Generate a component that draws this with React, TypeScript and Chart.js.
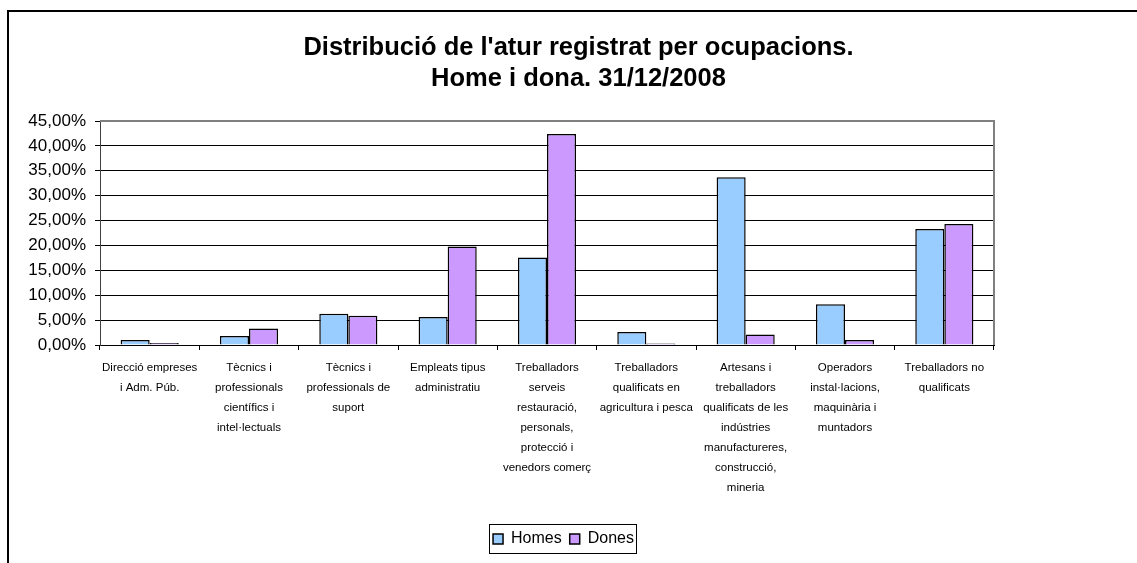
import React, { useEffect, useRef } from "react";
import { Chart, registerables } from "chart.js";

Chart.register(...registerables);

const titleLines = ["Distribució de l'atur registrat per ocupacions.", "Home i dona. 31/12/2008"];

const categories: string[][] = [
  ["Direcció empreses", "i Adm. Púb."],
  ["Tècnics i", "professionals", "científics i", "intel·lectuals"],
  ["Tècnics i", "professionals de", "suport"],
  ["Empleats tipus", "administratiu"],
  ["Treballadors", "serveis", "restauració,", "personals,", "protecció i", "venedors comerç"],
  ["Treballadors", "qualificats en", "agricultura i pesca"],
  ["Artesans i", "treballadors", "qualificats de les", "indústries", "manufactureres,", "construcció,", "mineria"],
  ["Operadors", "instal·lacions,", "maquinària i", "muntadors"],
  ["Treballadors no", "qualificats"],
];

const homes = [1.0, 1.8, 6.3, 5.6, 17.6, 2.6, 33.7, 8.2, 23.3];
const dones = [0.4, 3.3, 5.9, 19.8, 42.4, 0.3, 2.1, 1.0, 24.3];

const seriesNames = ["Homes", "Dones"];
const yMax = 45;
const yStep = 5;

const FONT = "Arial, 'Liberation Sans', sans-serif";

const framePlugin = {
  id: "frameAndBorders",
  afterLayout(chart: any) {
    const legend = chart.legend;
    if (!legend) return;
    const d = -15;
    legend.left += d;
    legend.right += d;
    if (legend.legendHitBoxes) {
      for (const h of legend.legendHitBoxes) h.left += d;
    }
  },
  beforeDatasetsDraw(chart: any) {
    const { ctx, chartArea } = chart;
    ctx.save();
    ctx.strokeStyle = "#808080";
    ctx.lineWidth = 2;
    ctx.beginPath();
    ctx.moveTo(chartArea.left, chartArea.top);
    ctx.lineTo(chartArea.right, chartArea.top);
    ctx.lineTo(chartArea.right, chartArea.bottom);
    ctx.stroke();
    ctx.restore();
  },
  afterDraw(chart: any) {
    const { ctx } = chart;
    ctx.save();
    ctx.strokeStyle = "#000";
    ctx.lineWidth = 2;
    ctx.strokeRect(8, 11, 1300, 700);
    const legend = chart.legend;
    if (legend && legend.legendHitBoxes && legend.legendHitBoxes.length) {
      const boxes = legend.legendHitBoxes;
      let l = Infinity, r = -Infinity, t = Infinity, b = -Infinity;
      for (const h of boxes) {
        l = Math.min(l, h.left);
        r = Math.max(r, h.left + h.width);
        t = Math.min(t, h.top);
        b = Math.max(b, h.top + h.height);
      }
      ctx.lineWidth = 1;
      ctx.strokeRect(Math.round(l - 4) + 0.5, Math.round(t - 7) + 0.5, Math.round(r - l + 6), Math.round(b - t + 13));
    }
    ctx.restore();
  },
};

export default function App() {
  const ref = useRef<HTMLCanvasElement | null>(null);

  useEffect(() => {
    if (!ref.current) return;
    const chart = new Chart(ref.current, {
      type: "bar",
      data: {
        labels: categories,
        datasets: [
          {
            label: seriesNames[0],
            data: homes,
            backgroundColor: "#99CCFF",
            borderColor: "#000000",
            borderWidth: 1.5,
            categoryPercentage: 0.585,
            barPercentage: 1,
          },
          {
            label: seriesNames[1],
            data: dones,
            backgroundColor: "#CC99FF",
            borderColor: "#000000",
            borderWidth: 1.5,
            categoryPercentage: 0.585,
            barPercentage: 1,
          },
        ],
      },
      options: {
        responsive: false,
        animation: false,
        layout: { padding: { left: 20, right: 0, top: 0, bottom: 6 } },
        plugins: {
          title: {
            display: true,
            text: titleLines,
            color: "#000",
            font: { family: FONT, size: 25.5, weight: "bold", lineHeight: "31px" },
            padding: { top: 32, bottom: 27 },
          },
          legend: {
            display: true,
            position: "bottom",
            labels: {
              color: "#000",
              boxWidth: 10,
              boxHeight: 10,
              padding: 8,
              font: { family: FONT, size: 16 },
            },
          },
          tooltip: { enabled: false },
        },
        scales: {
          x: {
            grid: {
              offset: true,
              drawOnChartArea: false,
              drawTicks: true,
              tickLength: 5,
              color: "#000",
            },
            border: { color: "#000", width: 1 },
            ticks: {
              color: "#000",
              maxRotation: 0,
              autoSkip: false,
              padding: 8,
              font: { family: FONT, size: 11.5, lineHeight: "20px" },
            },
            afterFit(scale: any) {
              scale.height = 178;
            },
          },
          y: {
            min: 0,
            max: yMax,
            grid: { color: "#000", lineWidth: 1, tickLength: 5, drawTicks: true },
            border: { color: "#404040", width: 1 },
            ticks: {
              stepSize: yStep,
              color: "#000",
              padding: 9,
              font: { family: FONT, size: 17 },
              callback: (v: any) => Number(v).toFixed(2).replace(".", ",") + "%",
            },
            afterFit(scale: any) {
              scale.width = 80;
            },
          },
          spacer: {
            type: "linear",
            position: "right",
            display: true,
            grid: { display: false, drawOnChartArea: false },
            border: { display: false },
            ticks: { display: false },
            afterFit(scale: any) {
              scale.width = 143;
            },
          },
        },
      },
      plugins: [framePlugin],
    } as any);
    return () => chart.destroy();
  }, []);

  return (
    <div style={{ position: "absolute", left: 0, top: 0, width: 1137, height: 563, background: "#fff" }}>
      <canvas ref={ref} width={1137} height={563} />
    </div>
  );
}
